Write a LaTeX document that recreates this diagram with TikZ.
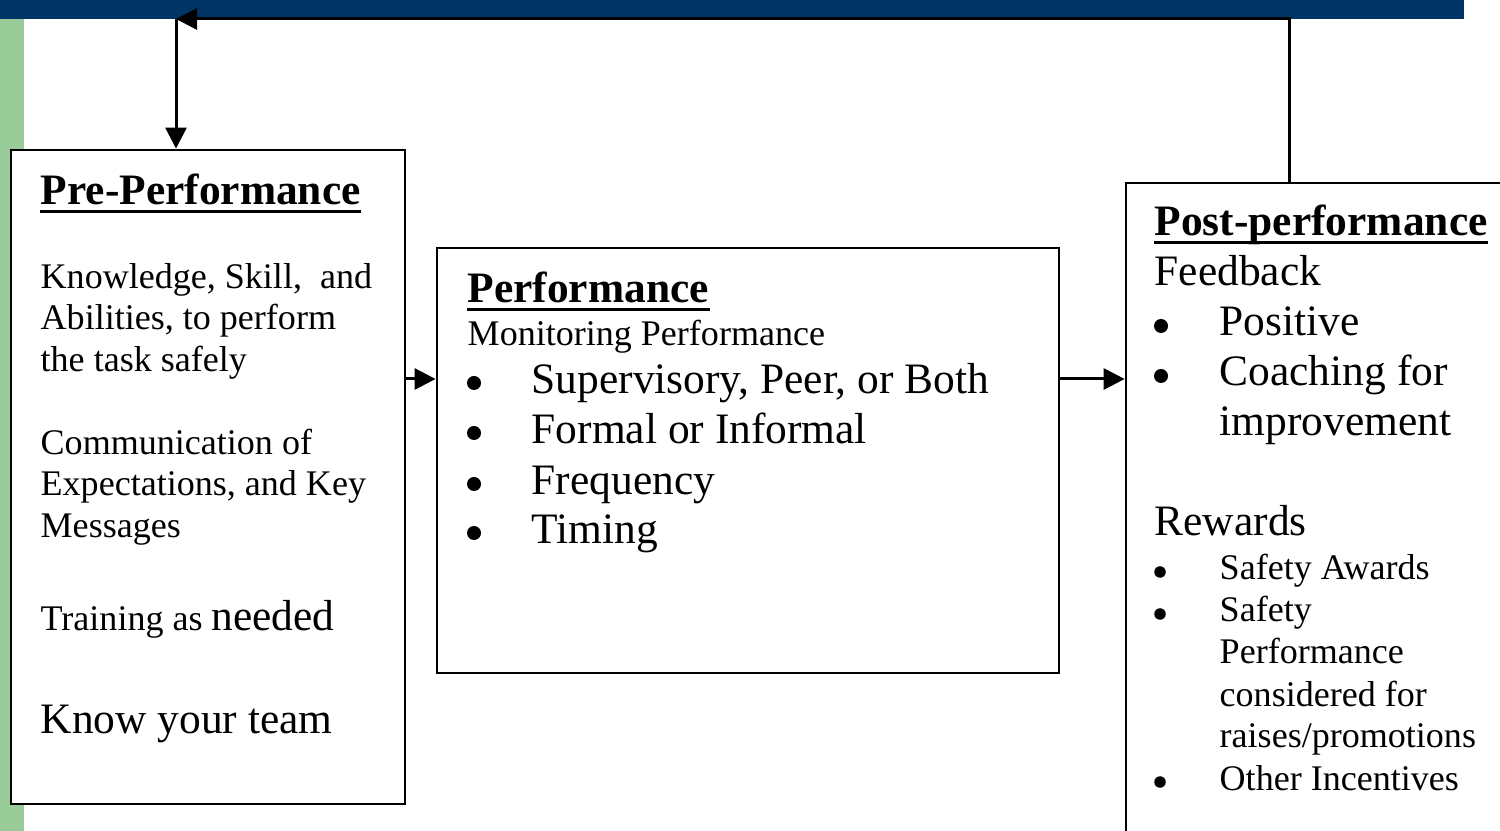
\documentclass[tikz,border=0pt]{standalone}
\usepackage{fontspec}
\setmainfont{Liberation Serif}
\usepackage{tikz}
\usetikzlibrary{arrows.meta,positioning,calc}

\definecolor{barblue}{RGB}{0,51,102}
\definecolor{stripegreen}{RGB}{153,204,153}

\begin{document}
\begin{tikzpicture}[
  x=0.01cm, y=-0.01cm,
  stage/.style={rectangle, draw, fill=white, line width=0.025cm, inner sep=0pt},
  body/.style={anchor=base west, inner sep=0pt, font=\fontsize{10.25}{12}\selectfont},
  bigbody/.style={anchor=base west, inner sep=0pt, font=\fontsize{12.35}{14}\selectfont},
  heading/.style={bigbody, font=\fontsize{12.35}{14}\selectfont\bfseries},
  bigdot/.style={circle, fill, inner sep=0pt, minimum size=0.14cm},
  smalldot/.style={circle, fill, inner sep=0pt, minimum size=0.115cm},
  uline/.style={line width=0.03cm},
  arr/.style={-{Triangle[length=0.21cm, width=0.21cm]}, line width=0.03cm}
]
\useasboundingbox (0,0) rectangle (1500,831);
\clip (0,0) rectangle (1500,831);

% Background bar and stripe
\fill[stripegreen] (0,19) rectangle (24,831);
\fill[barblue] (0,0) rectangle (1464,19);

% Stage boxes
\node[stage, minimum width=3.94cm, minimum height=6.54cm] (pre) at (208,477) {};
\node[stage, minimum width=6.22cm, minimum height=4.25cm] (perf) at (748,460.5) {};
\node[stage, minimum width=4.0cm, minimum height=6.8cm] (post) at (1326,523) {};

% Pre-Performance
\node[heading] (prehd) at (40,205) {Pre-Performance};
\draw[uline] ([yshift=-0.07cm]prehd.base west) -- ([yshift=-0.07cm]prehd.base east);
\node[body] (ksa1) at (40,289) {Knowledge, Skill,~ and};
\node[body] (ksa2) at (40,330) {Abilities, to perform};
\node[body] (ksa3) at (40,372) {the task safely};
\node[body] (comm1) at (40,455) {Communication of};
\node[body] (comm2) at (40,496) {Expectations, and Key};
\node[body] (comm3) at (40,538) {Messages};
\node[body] (train) at (40,630) {Training as {\fontsize{12.35}{14}\selectfont needed}};
\node[bigbody] (team) at (40,733) {Know your team};

% Performance
\node[heading] (perfhd) at (467,303) {Performance};
\draw[uline] ([yshift=-0.07cm]perfhd.base west) -- ([yshift=-0.07cm]perfhd.base east);
\node[body] (mon) at (467,346) {Monitoring Performance};
\node[bigdot] (mdot1) at (474,383) {};
\node[bigbody] (mon1) at (531,394) {Supervisory, Peer, or Both};
\node[bigdot] (mdot2) at (474,433) {};
\node[bigbody] (mon2) at (531,444) {Formal or Informal};
\node[bigdot] (mdot3) at (474,484) {};
\node[bigbody] (mon3) at (531,495) {Frequency};
\node[bigdot] (mdot4) at (474,533) {};
\node[bigbody] (mon4) at (531,544) {Timing};

% Post-performance
\node[heading] (posthd) at (1154,236) {Post-performance};
\draw[uline] ([yshift=-0.07cm]posthd.base west) -- ([yshift=-0.07cm]posthd.base east);
\node[bigbody] (fb) at (1154,286) {Feedback};
\node[bigdot] (fdot1) at (1161,326) {};
\node[bigbody] (fb1) at (1219,336) {Positive};
\node[bigdot] (fdot2) at (1161,376) {};
\node[bigbody] (fb2) at (1219,386) {Coaching for};
\node[bigbody] (fb3) at (1219,436) {improvement};
\node[bigbody] (rw) at (1154,536) {Rewards};
\node[smalldot] (rdot1) at (1160,572) {};
\node[body] (rw1) at (1219,580) {Safety Awards};
\node[smalldot] (rdot2) at (1160,614) {};
\node[body] (rw2) at (1219,622) {Safety};
\node[body] (rw3) at (1219,664) {Performance};
\node[body] (rw4) at (1219,706) {considered for};
\node[body] (rw5) at (1219,748) {raises/promotions};
\node[smalldot] (rdot3) at (1160,782) {};
\node[body] (rw6) at (1219,790) {Other Incentives};

% Connectors
\coordinate (lvl) at (0,379);
\coordinate (loop) at (176,19);
\coordinate (ret) at (1289,19);
\draw[arr] (pre.east |- lvl) -- (perf.west |- lvl);
\draw[arr] (perf.east |- lvl) -- (post.west |- lvl);
\draw[arr] (ret |- post.north) -- (ret) -- (loop);
\draw[arr] (loop) -- (loop |- pre.north);

\end{tikzpicture}
\end{document}
